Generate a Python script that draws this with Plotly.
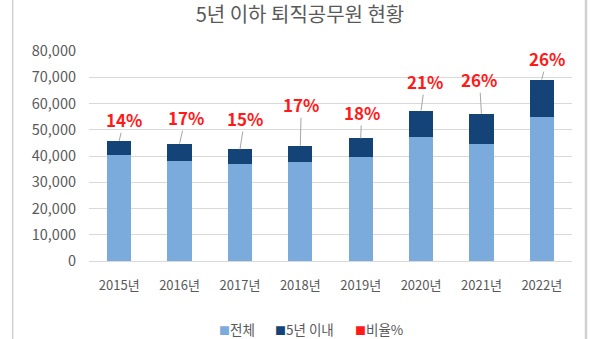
import plotly.graph_objects as go

years = ["2015년", "2016년", "2017년", "2018년", "2019년", "2020년", "2021년", "2022년"]
total = [40200, 38100, 36900, 37600, 39700, 47300, 44500, 54900]
within5 = [5600, 6600, 5600, 6300, 7000, 10000, 11600, 14200]
ratio_labels = ["14%", "17%", "15%", "17%", "18%", "21%", "26%", "26%"]
legend_names = ["전체", "5년 이내", "비율%"]

# label offsets in pixels (style/position only)
label_dx = [5, 6, 5, 1, 1, 4, -2, 5]
label_dy = [-21, -26, -31, -41, -26, -29, -34, -21]
legend_x = [0.265, 0.381, 0.5466]

C_LIGHT = "#7BAADC"
C_DARK = "#134377"
C_RED = "#FF1A1A"
FONT = "Noto Sans CJK KR"
GRAY = "#595959"

fig = go.Figure()
fig.add_trace(go.Bar(x=years, y=total, name=legend_names[0], marker_color=C_LIGHT,
                     marker_line_width=0, width=0.4, showlegend=False))
fig.add_trace(go.Bar(x=years, y=within5, name=legend_names[1], marker_color=C_DARK,
                     marker_line_width=0, width=0.4, showlegend=False))

for i, yr in enumerate(years):
    top = total[i] + within5[i]
    fig.add_annotation(x=yr, y=top, text="<b>%s</b>" % ratio_labels[i],
                       showarrow=True, arrowhead=0, arrowwidth=1, arrowcolor="#A6A6A6",
                       ax=label_dx[i], ay=label_dy[i], axref="pixel", ayref="pixel",
                       font=dict(family=FONT, size=17, color=C_RED),
                       borderpad=0, standoff=0, startstandoff=0)

for name, col, lx in zip(legend_names, [C_LIGHT, C_DARK, C_RED], legend_x):
    fig.add_annotation(xref="paper", yref="paper", x=lx, y=-0.326,
                       text='<span style="color:%s;font-size:11px">■</span>%s' % (col, name),
                       showarrow=False, xanchor="left", yanchor="middle",
                       font=dict(family=FONT, size=13.5, color=GRAY))

# outer chart frame lines (left and right)
fig.add_shape(type="line", xref="paper", yref="paper", x0=-0.158, x1=-0.158, y0=-0.4, y1=1.3,
              line=dict(color="#D0D0D0", width=1.5))
fig.add_shape(type="line", xref="paper", yref="paper", x0=1.029, x1=1.029, y0=-0.4, y1=1.3,
              line=dict(color="#D0D0D0", width=2.5))

fig.update_layout(
    barmode="stack",
    width=600, height=339,
    margin=dict(l=89, r=28, t=50.5, b=78),
    paper_bgcolor="white", plot_bgcolor="white",
    font=dict(family=FONT, color=GRAY),
    title=dict(text="5년 이하 퇴직공무원 현황", x=0.5, xref="container", xanchor="center",
               y=0.957, yanchor="middle", font=dict(family=FONT, size=20, color=GRAY)),
    showlegend=False,
    xaxis=dict(showgrid=False, showline=True, linecolor="#D9D9D9", linewidth=1,
               tickfont=dict(family=FONT, size=13, color=GRAY), ticklabelstandoff=12),
    yaxis=dict(range=[0, 80000], dtick=10000, tickformat=",", showgrid=True,
               gridcolor="#D9D9D9", gridwidth=1, zeroline=False, showline=False,
               tickfont=dict(family=FONT, size=14.5, color=GRAY), ticklabelstandoff=12),
)

fig.write_html("out.html")
